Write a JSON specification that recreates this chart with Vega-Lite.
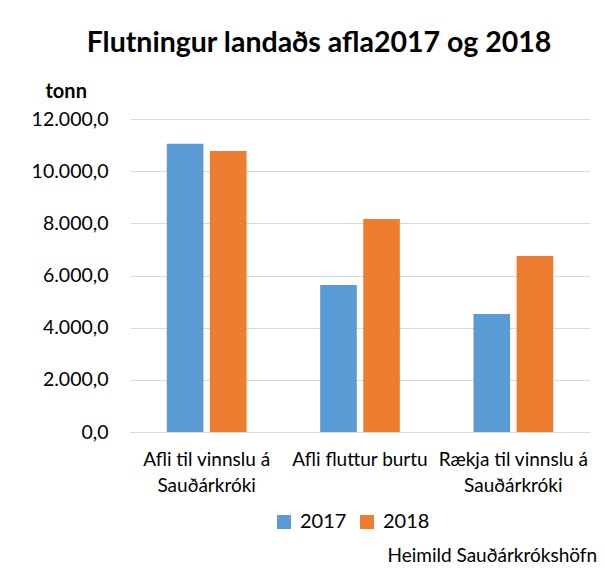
{
  "$schema": "https://vega.github.io/schema/vega-lite/v6.json",
  "autosize": {"type": "none"},
  "padding": {"left": 130, "top": 119, "right": 15, "bottom": 137},
  "width": 460,
  "height": 313,
  "background": "white",
  "title": {
    "text": "Flutningur landaðs afla2017 og 2018",
    "frame": "group",
    "anchor": "middle",
    "dx": -41,
    "font": "Lato",
    "fontSize": 28.5,
    "fontWeight": "bold",
    "color": "#000000",
    "offset": 24
  },
  "data": {
    "values": [
      {"flokkur": "Afli til vinnslu á Sauðárkróki", "ar": "2017", "tonn": 11050},
      {"flokkur": "Afli til vinnslu á Sauðárkróki", "ar": "2018", "tonn": 10770},
      {"flokkur": "Afli fluttur burtu", "ar": "2017", "tonn": 5640},
      {"flokkur": "Afli fluttur burtu", "ar": "2018", "tonn": 8170},
      {"flokkur": "Rækja til vinnslu á Sauðárkróki", "ar": "2017", "tonn": 4520},
      {"flokkur": "Rækja til vinnslu á Sauðárkróki", "ar": "2018", "tonn": 6750}
    ]
  },
  "mark": {"type": "bar"},
  "encoding": {
    "x": {
      "field": "flokkur",
      "type": "nominal",
      "sort": null,
      "scale": {"paddingInner": 0.48, "paddingOuter": 0.24},
      "axis": {
        "title": "Heimild Sauðárkrókshöfn",
        "titleFont": "Lato",
        "titleFontSize": 19,
        "titleFontWeight": "normal",
        "titleColor": "#000000",
        "titleAlign": "left",
        "titleAnchor": "start",
        "titleBaseline": "middle",
        "titleX": 257,
        "titleY": 123,
        "labelAngle": 0,
        "labelFont": "Lato",
        "labelFontSize": 19,
        "labelColor": "#000000",
        "labelLineHeight": 26,
        "labelPadding": 27,
        "labelBaseline": "middle",
        "labelExpr": "datum.value == 'Afli til vinnslu á Sauðárkróki' ? ['Afli til vinnslu á', 'Sauðárkróki'] : datum.value == 'Rækja til vinnslu á Sauðárkróki' ? ['Rækja til vinnslu á', 'Sauðárkróki'] : datum.value",
        "ticks": false,
        "domainColor": "#D9D9D9",
        "domainWidth": 1
      }
    },
    "xOffset": {"field": "ar", "type": "nominal", "scale": {"paddingInner": 0.15}},
    "y": {
      "field": "tonn",
      "type": "quantitative",
      "scale": {"domain": [0, 12000], "nice": false},
      "axis": {
        "title": "tonn",
        "titleAngle": 0,
        "titleX": -85,
        "titleY": -28,
        "titleAlign": "left",
        "titleBaseline": "middle",
        "titleFont": "Lato",
        "titleFontSize": 20,
        "titleFontWeight": "bold",
        "titleColor": "#000000",
        "values": [0, 2000, 4000, 6000, 8000, 10000, 12000],
        "labelExpr": "replace(replace(replace(format(datum.value, ',.1f'), ',', '#'), '.', ','), '#', '.')",
        "labelFont": "Lato",
        "labelFontSize": 19.5,
        "labelColor": "#000000",
        "labelPadding": 22,
        "ticks": false,
        "domain": false,
        "gridColor": "#D9D9D9",
        "gridWidth": 1
      }
    },
    "color": {
      "field": "ar",
      "type": "nominal",
      "scale": {"domain": ["2017", "2018"], "range": ["#5B9BD5", "#ED7D31"]},
      "legend": {
        "title": null,
        "orient": "none",
        "direction": "horizontal",
        "legendX": 144,
        "legendY": 393,
        "symbolType": "square",
        "symbolSize": 196,
        "symbolStrokeWidth": 0,
        "symbolOpacity": 1,
        "labelFont": "Lato",
        "labelFontSize": 20,
        "labelColor": "#000000",
        "labelOffset": 6,
        "columnPadding": 10
      }
    }
  },
  "config": {"view": {"stroke": null}}
}
